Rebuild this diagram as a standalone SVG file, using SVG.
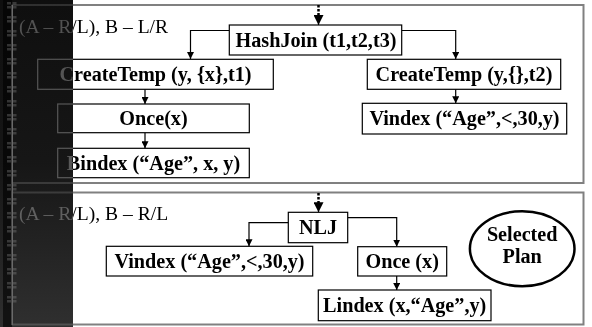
<svg xmlns="http://www.w3.org/2000/svg" width="592" height="327" viewBox="0 0 592 327">
<style>
.panel{fill:none;stroke:#808080;stroke-width:2}
.box{fill:#fff;stroke:#000;stroke-width:1.2}
.t{font-family:"Liberation Serif","Times New Roman",serif;font-weight:bold;font-size:20.2px;fill:#000;text-anchor:middle}
.lbl{font-family:"Liberation Serif","Times New Roman",serif;font-size:19.6px;fill:#000}
.conn{fill:none;stroke:#000;stroke-width:1.2}
.dot{fill:none;stroke:#000;stroke-width:2.5;stroke-dasharray:2.5 1.5}
</style>
<defs>
<marker id="ah" markerUnits="userSpaceOnUse" markerWidth="7" markerHeight="7" refX="7" refY="3.5" orient="auto"><path d="M0,0 L7,3.5 L0,7 z" fill="#000"/></marker>
<marker id="big" markerUnits="userSpaceOnUse" markerWidth="10" markerHeight="10" refX="10" refY="5" orient="auto"><path d="M0,0 L10,5 L0,10 z" fill="#000"/></marker>
<linearGradient id="strip" x1="0" y1="0" x2="0" y2="1"><stop offset="0" stop-color="#141414"/><stop offset="0.5" stop-color="#1e1e1e"/><stop offset="1" stop-color="#404040"/></linearGradient>
<pattern id="sq" patternUnits="userSpaceOnUse" x="7" y="2" width="11" height="14"><rect x="0" y="0" width="4" height="2.5" fill="#9a9a9a"/><rect x="5.5" y="0" width="4" height="2.5" fill="#9a9a9a"/><rect x="0" y="4" width="4" height="2.5" fill="#9a9a9a"/><rect x="5.5" y="4" width="4" height="2.5" fill="#9a9a9a"/></pattern>
</defs>
<rect x="0" y="0" width="592" height="327" fill="#fff"/>
<g id="panels">
<rect class="panel" x="12" y="5" width="571.5" height="178"/>
<rect class="panel" x="12" y="192.5" width="571.5" height="132"/>
</g>
<text class="lbl" x="19" y="33">(A – R/L), B – L/R</text>
<text class="lbl" x="19" y="220">(A – R/L), B – R/L</text>
<g id="connectors">
<path class="dot" d="M318.5,5 V15" />
<path class="conn" d="M318.5,14 V25" marker-end="url(#big)" stroke-width="0"/>
<path class="conn" d="M229,30.5 H190.5 V59" marker-end="url(#ah)"/>
<path class="conn" d="M402,30.5 H455.7 V59" marker-end="url(#ah)"/>
<path class="conn" d="M145,89.3 V104" marker-end="url(#ah)"/>
<path class="conn" d="M145,132.7 V148.3" marker-end="url(#ah)"/>
<path class="conn" d="M455.7,89.3 V103.3" marker-end="url(#ah)"/>
<path class="dot" d="M318.5,193 V203" />
<path class="conn" d="M318.5,202 V212.3" marker-end="url(#big)" stroke-width="0"/>
<path class="conn" d="M288.3,222.7 H249 V246.3" marker-end="url(#ah)"/>
<path class="conn" d="M347.7,217.7 H396.7 V246.7" marker-end="url(#ah)"/>
<path class="conn" d="M396.7,276 V290" marker-end="url(#ah)"/>
</g>
<g id="hashjoin"><rect class="box" x="229.3" y="25" width="172.4" height="30"/><text class="t" x="316" y="46.7">HashJoin (t1,t2,t3)</text></g>
<g id="createtemp1"><rect class="box" x="37.7" y="59.3" width="235.6" height="30"/><text class="t" x="155.5" y="81">CreateTemp (y, {x},t1)</text></g>
<g id="once1"><rect class="box" x="57.7" y="104" width="191.6" height="28.7"/><text class="t" x="153.5" y="125">Once(x)</text></g>
<g id="bindex"><rect class="box" x="57.7" y="148.3" width="191.6" height="29.4"/><text class="t" x="153.5" y="170">Bindex (“Age”, x, y)</text></g>
<g id="createtemp2"><rect class="box" x="367.3" y="59.3" width="193.4" height="30"/><text class="t" x="464" y="81">CreateTemp (y,{},t2)</text></g>
<g id="vindex1"><rect class="box" x="362.3" y="103.3" width="204.4" height="30.7"/><text class="t" x="464.5" y="125.3">Vindex (“Age”,&lt;,30,y)</text></g>
<g id="nlj"><rect class="box" x="288.3" y="212.3" width="59.4" height="30.4"/><text class="t" x="318" y="234">NLJ</text></g>
<g id="vindex2"><rect class="box" x="106.3" y="246.3" width="206.4" height="29.7"/><text class="t" x="209.5" y="267.7">Vindex (“Age”,&lt;,30,y)</text></g>
<g id="once2"><rect class="box" x="357.7" y="246.7" width="89" height="29.3"/><text class="t" x="402.2" y="268">Once (x)</text></g>
<g id="lindex"><rect class="box" x="318.3" y="290" width="172.7" height="30.7"/><text class="t" x="404.7" y="312">Lindex (x,“Age”,y)</text></g>
<g id="selected"><ellipse cx="522.2" cy="248.7" rx="52.3" ry="37.5" fill="#fff" stroke="#000" stroke-width="2.5"/><text class="t" x="522.2" y="240.7">Selected</text><text class="t" x="522.2" y="262.5">Plan</text></g>
<g id="sidebar">
<rect x="0" y="0" width="73" height="327" fill="#fff" style="mix-blend-mode:difference"/>
<rect x="0" y="0" width="73" height="327" fill="url(#strip)" fill-opacity="0.74"/>
<rect x="3" y="0" width="9" height="327" fill="#000" fill-opacity="0.6"/>
<rect x="7" y="0" width="11" height="310" fill="url(#sq)" opacity="0.3"/>
<rect x="11.5" y="5" width="1.5" height="320" fill="#6a6a6a"/>
</g>
</svg>
